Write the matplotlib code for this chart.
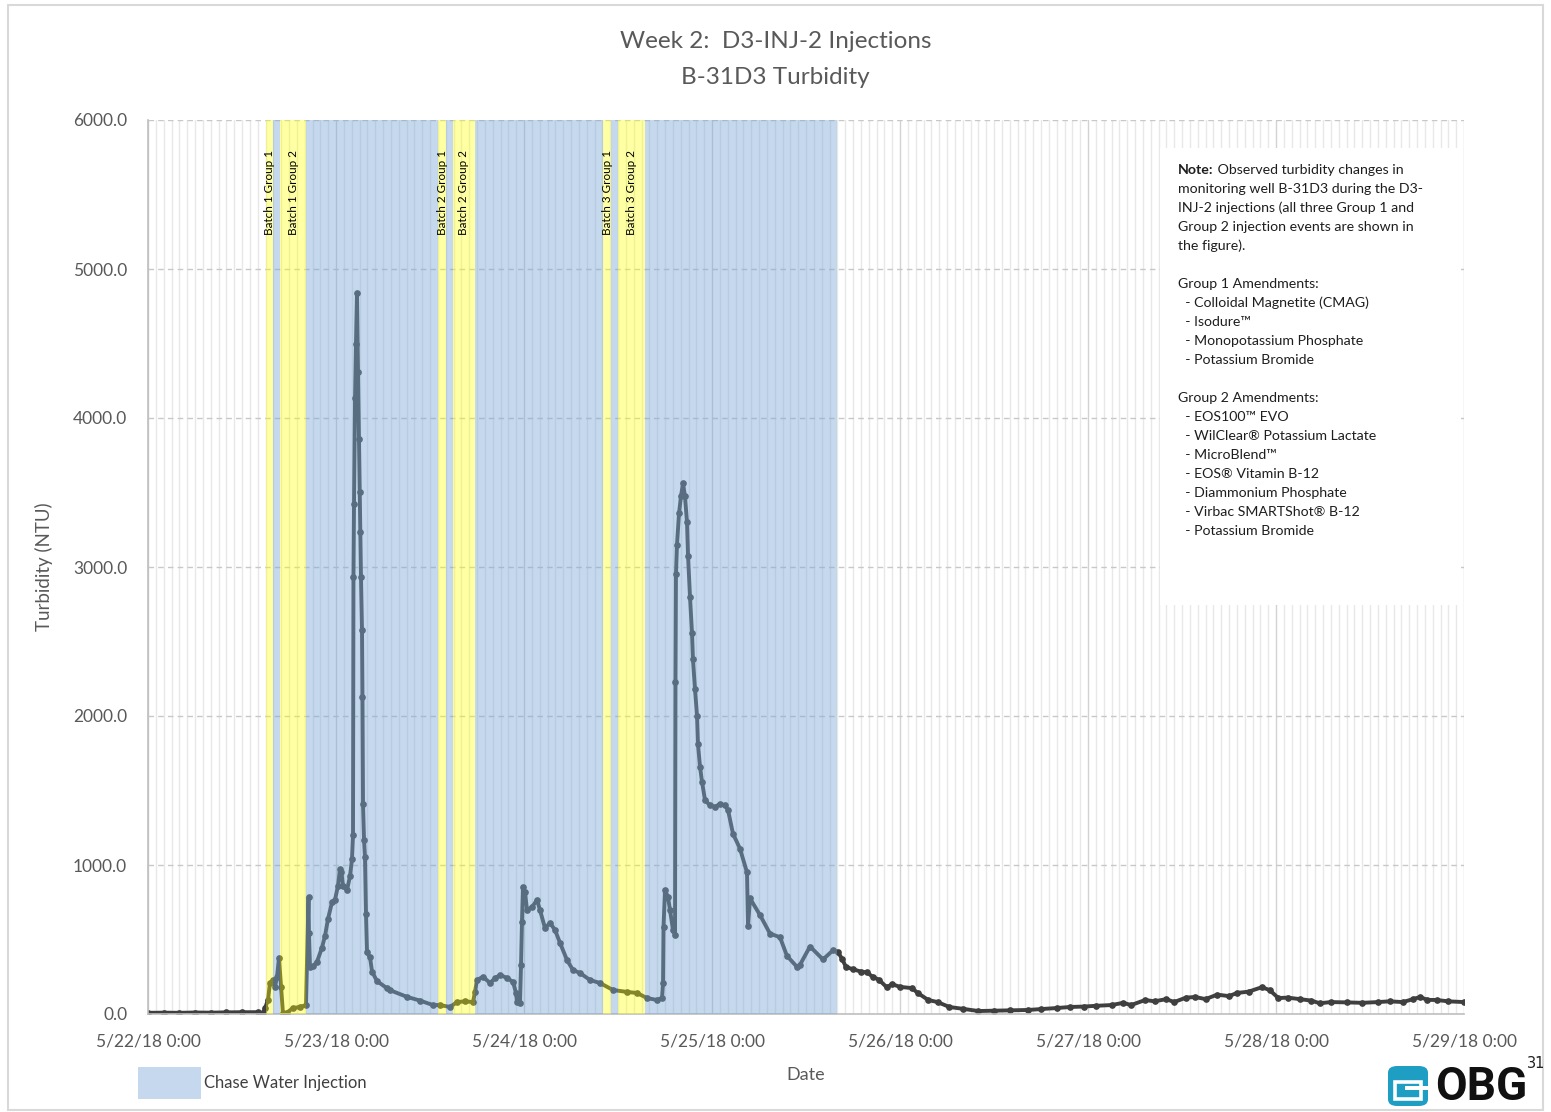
import matplotlib
matplotlib.use("Agg")
import matplotlib.pyplot as plt
from matplotlib.patches import Rectangle, Patch, FancyBboxPatch
from matplotlib.ticker import MultipleLocator, FixedLocator

plt.rcParams['font.family'] = ['Lato', 'DejaVu Sans']

# ---------------- data (hours since 5/22/18 0:00, turbidity NTU) ----------------
hours = [0, 2, 4, 6, 8, 10, 12, 14, 14.68, 14.94, 15.32, 15.57, 15.96, 16.21, 16.47, 16.72,
         16.98, 17.23, 17.74, 18.51, 19.40, 20.17, 20.49, 20.55, 20.68, 21.06, 21.57, 22.21,
         22.60, 22.98, 23.49, 23.87, 24.26, 24.51, 24.70, 24.89, 25.40, 25.79, 26.04, 26.17,
         26.23, 26.30, 26.43, 26.55, 26.68, 26.81, 26.94, 27.03, 27.10, 27.19, 27.32, 27.38,
         27.45, 27.58, 27.70, 27.83, 27.96, 28.34, 28.60, 29.23, 30.51, 30.89, 33.06, 34.72,
         36.38, 37.28, 38.55, 39.45, 40.47, 41.49, 41.74, 42.00, 42.77, 43.66, 44.30, 44.94,
         45.83, 46.60, 46.98, 47.11, 47.49, 47.62, 47.74, 47.87, 48.13, 48.38, 49.02, 49.66,
         50.04, 50.68, 51.32, 51.96, 52.60, 53.49, 54.26, 55.15, 56.43, 57.70, 59.36, 61.15,
         62.43, 63.70, 64.98, 65.62, 65.75, 65.81, 66.00, 66.38, 66.64, 67.02, 67.28, 67.34,
         67.40, 67.53, 67.79, 68.04, 68.30, 68.55, 68.81, 68.94, 69.19, 69.45, 69.57, 69.83,
         70.09, 70.21, 70.47, 70.72, 71.11, 71.74, 72.38, 73.02, 73.66, 74.04, 74.68, 75.57,
         76.47, 76.60, 76.85, 78.13, 79.40, 80.68, 81.57, 82.85, 83.23, 84.51, 86.17, 87.45,
         88.1, 88.6, 89.1, 90.0, 91.0, 91.8, 92.5, 93.3, 94.3, 95.0, 96.0, 97.5, 98.3, 99.6,
         100.8, 102.3, 104.0, 106.0, 108, 110, 112.3, 114, 116, 117.7, 119.5, 121, 123, 124.5,
         125.5, 127.3, 128.5, 130, 131, 132.5, 133.7, 135, 136.5, 138, 139, 140.5, 142.2,
         143.2, 144.3, 145.5, 147, 148.5, 149.6, 151, 153, 155, 157, 158.5, 160.2, 161.5,
         162.4, 163.3, 164.5, 166, 168]
ntu = [8, 9, 8, 10, 9, 11, 12, 12, 7, 40, 94, 208, 228, 181, 250, 375,
       181, 5, 10, 40, 47, 60, 782, 542, 317, 320, 350, 445,
       525, 638, 750, 766, 862, 974, 950, 862, 830, 926, 1038, 1199,
       2930, 3426, 4131, 4500, 4837, 4308, 3859, 3506, 3234, 2930, 2577, 2128,
       1407, 1167, 1054, 670, 413, 381, 285, 221, 173, 160, 115, 90,
       60, 60, 47, 80, 85, 80, 148, 228, 250, 208, 240, 262,
       242, 215, 141, 80, 74, 329, 617, 852, 819, 698, 718, 765,
       698, 577, 611, 564, 477, 362, 295, 275, 228, 208, 161, 148,
       141, 107, 94, 107, 208, 584, 832, 785, 698, 564, 530, 2230,
       2950, 3150, 3360, 3475, 3562, 3475, 3300, 3077, 2800, 2555, 2380, 2180,
       2000, 1810, 1660, 1560, 1435, 1400, 1390, 1410, 1400, 1370, 1210, 1110,
       950, 590, 776, 664, 540, 515, 390, 316, 330, 453, 366, 428,
       415, 370, 316, 300, 285, 279, 250, 230, 180, 200, 182, 174, 140, 94,
       80, 47, 35, 20, 22, 24, 27, 33, 40, 47, 50, 55, 60, 75,
       60, 94, 85, 100, 80, 110, 114, 100, 130, 120, 141, 150, 180,
       160, 107, 110, 100, 90, 72, 80, 78, 75, 80, 85, 80, 100,
       114, 95, 94, 85, 80]

batch_labels = ['Batch 1 Group 1', 'Batch 1 Group 2', 'Batch 2 Group 1',
                'Batch 2 Group 2', 'Batch 3 Group 1', 'Batch 3 Group 2']
batch_start = [15.0, 16.9, 37.0, 38.9, 58.1, 60.0]
batch_end = [16.0, 20.2, 38.1, 41.7, 59.1, 63.4]
chase_start = [16.0, 20.2, 38.1, 41.7, 59.1, 63.4]
chase_end = [16.9, 37.0, 38.9, 58.1, 60.0, 88.0]

x_ticks = [0, 24, 48, 72, 96, 120, 144, 168]
x_tick_labels = ['5/22/18 0:00', '5/23/18 0:00', '5/24/18 0:00', '5/25/18 0:00',
                 '5/26/18 0:00', '5/27/18 0:00', '5/28/18 0:00', '5/29/18 0:00']
y_ticks = [0, 1000, 2000, 3000, 4000, 5000, 6000]

note_lines = [
    ("Note:", " Observed turbidity changes in"),
    ("", "monitoring well B-31D3 during the D3-"),
    ("", "INJ-2 injections (all three Group 1 and"),
    ("", "Group 2 injection events are shown in"),
    ("", "the figure)."),
    ("", ""),
    ("", "Group 1 Amendments:"),
    ("", "  - Colloidal Magnetite (CMAG)"),
    ("", "  - Isodure\u2122"),
    ("", "  - Monopotassium Phosphate"),
    ("", "  - Potassium Bromide"),
    ("", ""),
    ("", "Group 2 Amendments:"),
    ("", "  - EOS100\u2122 EVO"),
    ("", "  - WilClear\u00ae Potassium Lactate"),
    ("", "  - MicroBlend\u2122"),
    ("", "  - EOS\u00ae Vitamin B-12"),
    ("", "  - Diammonium Phosphate"),
    ("", "  - Virbac SMARTShot\u00ae B-12"),
    ("", "  - Potassium Bromide"),
]

# ---------------- figure ----------------
W, H = 1551, 1112
fig = plt.figure(figsize=(W / 100, H / 100), dpi=100)
fig.patch.set_facecolor('white')


def fx(px):
    return px / W


def fy(py):
    return 1 - py / H


ax = fig.add_axes([fx(148), fy(1014), fx(1464) - fx(148), fy(120) - fy(1014)])

LINE = '#3f3f3f'
BLUE = '#7BA8D6'
BLUE_A = 0.44
YEL = '#FFFF00'
YEL_A = 0.36
TXT = '#595959'

ax.plot(hours, ntu, color=LINE, lw=2.8, marker='o', ms=3.8, mec=LINE, mfc=LINE,
        zorder=2, solid_joinstyle='round', solid_capstyle='round')

for s, e in zip(chase_start, chase_end):
    ax.axvspan(s, e, color=BLUE, alpha=BLUE_A, lw=0, zorder=3)
for s, e, lab in zip(batch_start, batch_end, batch_labels):
    ax.axvspan(s, e, color=YEL, alpha=YEL_A, lw=0, zorder=3)
    ax.text((s + e) / 2, 5800, lab, rotation=90, ha='center', va='top',
            fontsize=8.4, color='black', zorder=6)

ax.set_xlim(0, 168)
ax.set_ylim(0, 6000)
ax.xaxis.set_major_locator(FixedLocator(x_ticks))
ax.set_xticklabels(x_tick_labels)
ax.xaxis.set_minor_locator(MultipleLocator(1))
ax.set_yticks(y_ticks)
ax.set_yticklabels([f"{v:.1f}" for v in y_ticks])
ax.tick_params(axis='both', which='both', length=0, labelsize=12.5, labelcolor=TXT)
ax.tick_params(axis='y', pad=15)
ax.tick_params(axis='x', pad=14)

ax.grid(axis='x', which='minor', color='#e8e8e8', lw=1.0, zorder=0)
ax.grid(axis='x', which='major', color='#d2d2d2', lw=1.0, zorder=0)
ax.grid(axis='y', which='major', color='#c8c8c8', lw=1.0, ls=(0, (4, 3)), zorder=0)
ax.set_axisbelow(True)
for sp in ['top', 'right']:
    ax.spines[sp].set_visible(False)
for sp in ['left', 'bottom']:
    ax.spines[sp].set_color('#bfbfbf')
    ax.spines[sp].set_linewidth(1.2)

ax.set_ylabel('Turbidity (NTU)', fontsize=13.5, color=TXT, labelpad=14)
fig.text(fx(806), fy(1075), 'Date', ha='center', va='center', fontsize=13, color=TXT)

# title
fig.text(0.5, fy(42), 'Week 2:  D3-INJ-2 Injections', ha='center', va='center',
         fontsize=17.5, color=TXT)
fig.text(0.5, fy(77), 'B-31D3 Turbidity', ha='center', va='center',
         fontsize=17.5, color=TXT)

# note box
box = Rectangle((fx(1160), fy(605)), fx(1460) - fx(1160), fy(148) - fy(605),
                transform=fig.transFigure, facecolor='white', edgecolor='none',
                zorder=4, clip_on=False)
ax.add_patch(box)
renderer = fig.canvas.get_renderer()
NOTE_FS = 10.2
for i, (bold, rest) in enumerate(note_lines):
    y = fy(170 + 19 * i)
    x0 = fx(1178)
    if bold:
        t = ax.text(x0, y, bold, transform=fig.transFigure, ha='left', va='center',
                    fontsize=NOTE_FS, fontweight='bold', color='#1e1e1e', zorder=6)
        bb = t.get_window_extent(renderer)
        x0 = fx(bb.x1)
    if rest:
        ax.text(x0, y, rest, transform=fig.transFigure, ha='left', va='center',
                fontsize=NOTE_FS, color='#1e1e1e', zorder=6)

# legend
fig.legend(handles=[Patch(facecolor=BLUE, alpha=BLUE_A, edgecolor='none')],
           labels=['Chase Water Injection'], loc='center left',
           bbox_to_anchor=(fx(138), fy(1083)), frameon=False, fontsize=12,
           handlelength=3.8, handleheight=2.5, handletextpad=0.15, borderpad=0,
           borderaxespad=0, labelcolor='#404040')

# logo + page number
logo = FancyBboxPatch((fx(1388), fy(1106)), fx(1428) - fx(1388), fy(1066) - fy(1106),
                      boxstyle='round,pad=0.0,rounding_size=0.006',
                      transform=fig.transFigure, facecolor='#1e9ec2', edgecolor='none')
fig.add_artist(logo)
fig.add_artist(Rectangle((fx(1395), fy(1099)), fx(1421) - fx(1395), fy(1082) - fy(1099),
                         transform=fig.transFigure, facecolor='none', edgecolor='white',
                         lw=2.6))
fig.add_artist(Rectangle((fx(1405), fy(1090)), fx(1430) - fx(1405), fy(1086) - fy(1090),
                         transform=fig.transFigure, facecolor='white', edgecolor='none'))
fig.text(fx(1435), fy(1087), 'OBG', ha='left', va='center', fontsize=33,
         fontweight='bold', color='#111111', family=['Roboto', 'DejaVu Sans'])
fig.text(fx(1527), fy(1063), '31', ha='left', va='center', fontsize=10.5, color='#222222',
         family=['DejaVu Sans'])

# outer frame
fig.add_artist(Rectangle((fx(8), fy(1110)), fx(1543) - fx(8), fy(5) - fy(1110),
                         transform=fig.transFigure, facecolor='none', edgecolor='#d9d9d9',
                         lw=1.5))

fig.savefig('out.png', dpi=100)
